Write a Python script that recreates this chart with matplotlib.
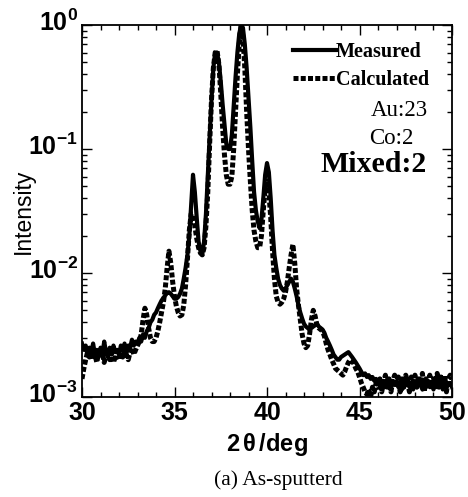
import numpy as np
import matplotlib
matplotlib.use("Agg")
import matplotlib.pyplot as plt
import matplotlib.transforms as mtransforms
from matplotlib import font_manager as fm
from matplotlib.ticker import LogLocator, MultipleLocator, NullFormatter, FixedLocator

names = sorted({f.name for f in fm.fontManager.ttflist})

# ---------------- data ----------------
two_theta = np.round(np.arange(30.0, 50.05, 0.1), 1)

measured = np.array([
    2.7, 2.4, 2.6, 2.2, 2.5, 2.3, 2.7, 2.2, 2.4, 2.1,
    2.5, 2.2, 2.8, 2.3, 2.1, 2.5, 2.2, 2.6, 2.3, 2.4,
    2.2, 2.6, 2.4, 2.7, 2.3, 2.6, 2.5, 2.9, 2.6, 2.8,
    2.7, 3.0, 2.8, 3.2, 3.0, 3.4, 3.6, 4.0, 4.2, 4.6,
    4.8, 5.2, 5.6, 6.0, 6.3, 6.6, 6.9, 7.0, 6.8, 6.5,
    6.2, 6.2, 6.4, 6.8, 7.5, 9.0, 11, 14, 20, 35,
    62, 45, 28, 18, 15, 14, 18, 30, 60, 120,
    250, 450, 600, 600, 500, 350, 230, 160, 110, 100,
    100, 130, 220, 380, 600, 850, 1000, 950, 700, 450,
    260, 150, 80, 45, 32, 26, 23, 27, 40, 62,
    77, 65, 40, 22, 14, 11, 9.0, 8.0, 7.5, 7.2,
    7.5, 8.0, 8.5, 9.0, 8.5, 7.5, 6.5, 5.5, 4.8, 4.3,
    3.9, 3.7, 3.6, 3.5, 3.6, 3.7, 3.8, 3.9, 3.7, 3.6,
    3.5, 3.3, 3.0, 2.8, 2.6, 2.4, 2.2, 2.1, 2.0, 2.0,
    2.1, 2.15, 2.2, 2.25, 2.3, 2.2, 2.1, 2.0, 1.9, 1.8,
    1.7, 1.6, 1.5, 1.55, 1.45, 1.5, 1.4, 1.45, 1.35, 1.4,
    1.3, 1.4, 1.25, 1.35, 1.2, 1.4, 1.3, 1.2, 1.35, 1.25,
    1.3, 1.2, 1.35, 1.15, 1.3, 1.25, 1.4, 1.2, 1.3, 1.15,
    1.3, 1.2, 1.35, 1.25, 1.15, 1.3, 1.2, 1.35, 1.2, 1.25,
    1.15, 1.3, 1.2, 1.25, 1.35, 1.15, 1.3, 1.2, 1.25, 1.3,
    1.2]) * 1e-3

calculated = np.array([
    1.4, 1.7, 2.0, 2.3, 2.1, 2.4, 2.0, 2.2, 1.9, 2.3,
    2.1, 2.3, 1.9, 2.2, 2.4, 2.0, 2.3, 1.9, 2.1, 2.2,
    2.0, 2.3, 2.1, 2.4, 2.2, 2.0, 2.3, 2.5, 2.2, 2.4,
    2.6, 2.8, 3.2, 4.2, 5.2, 4.6, 3.6, 3.0, 2.8, 2.8,
    3.0, 3.4, 4.0, 4.8, 5.8, 7.5, 11, 15, 12, 8.5,
    6.5, 5.4, 4.8, 4.5, 4.6, 5.5, 8.0, 13, 22, 30,
    30, 24, 19, 16, 14.5, 14, 16, 24, 45, 110,
    250, 450, 600, 620, 480, 280, 150, 90, 62, 52,
    52, 60, 100, 200, 400, 700, 1000, 800, 450, 200,
    100, 55, 32, 22, 18, 16, 16, 20, 32, 48,
    55, 45, 28, 15, 9.0, 6.5, 5.8, 5.6, 5.8, 6.2,
    7.0, 8.5, 11, 14, 17, 12, 7.5, 5.5, 4.2, 3.2,
    2.7, 2.5, 2.6, 3.2, 4.2, 5.0, 4.5, 3.8, 3.6, 3.5,
    3.4, 3.1, 2.7, 2.4, 2.2, 2.0, 1.85, 1.7, 1.65, 1.6,
    1.55, 1.5, 1.6, 1.75, 1.9, 2.0, 1.95, 1.85, 1.7, 1.6,
    1.45, 1.3, 1.2, 1.1, 1.05, 1.15, 1.0, 1.2, 1.1, 1.3,
    1.2, 1.4, 1.1, 1.3, 1.5, 1.2, 1.4, 1.1, 1.35, 1.5,
    1.3, 1.45, 1.1, 1.4, 1.2, 1.5, 1.3, 1.1, 1.45, 1.3,
    1.5, 1.2, 1.4, 1.3, 1.55, 1.1, 1.4, 1.3, 1.5, 1.2,
    1.4, 1.3, 1.55, 1.2, 1.45, 1.35, 1.5, 1.1, 1.4, 1.5,
    1.4]) * 1e-3

x_ticks = [30, 35, 40, 45, 50]
x_tick_labels = ["30", "35", "40", "45", "50"]
y_ticks = [1e-3, 1e-2, 1e-1, 1e0]
y_tick_labels = [r"$10^{-3}$", r"$10^{-2}$", r"$10^{-1}$", r"$10^{0}$"]
legend_labels = ["Measured", "Calculated"]
annotations = ["Au:23", "Co:2", "Mixed:2"]

# ---------------- fonts ----------------
tick_font = "Liberation Sans Narrow" if "Liberation Sans Narrow" in names else "Liberation Sans"
plt.rcParams["mathtext.fontset"] = "custom"
plt.rcParams["mathtext.rm"] = f"{tick_font}:bold"
plt.rcParams["mathtext.it"] = f"{tick_font}:bold"
plt.rcParams["mathtext.bf"] = f"{tick_font}:bold"
plt.rcParams["mathtext.default"] = "rm"

fig = plt.figure(figsize=(4.68, 4.97), dpi=100)
ax = fig.add_axes([82/468, 1-397/497, 370/468, 372/497])

ax.plot(two_theta, measured, color="black", lw=3.0, solid_joinstyle="round",
        label=legend_labels[0])
ax.plot(two_theta, calculated, color="black", lw=3.6, linestyle=(0, (1.0, 0.45)),
        dash_capstyle="butt", label=legend_labels[1])

ax.set_yscale("log")
ax.set_xlim(30, 50)
ax.set_ylim(1e-3, 1e0)

ax.xaxis.set_major_locator(FixedLocator(x_ticks))
ax.set_xticklabels(x_tick_labels)
ax.xaxis.set_minor_locator(MultipleLocator(1))
ax.yaxis.set_major_locator(FixedLocator(y_ticks))
ax.set_yticklabels(y_tick_labels)
ax.yaxis.set_minor_locator(LogLocator(base=10, subs=np.arange(2, 10), numticks=20))
ax.yaxis.set_minor_formatter(NullFormatter())

ax.tick_params(which="both", direction="in", top=True, right=True, width=1.0)
ax.tick_params(which="major", length=7, labelsize=18, pad=3)
ax.tick_params(which="minor", length=3.5)
for lab in ax.get_xticklabels():
    lab.set_fontfamily(tick_font)
    lab.set_fontweight("bold")
up = mtransforms.ScaledTranslation(0, 5/100, fig.dpi_scale_trans)
for lab in ax.get_yticklabels():
    lab.set_transform(lab.get_transform() + up)
for sp in ax.spines.values():
    sp.set_linewidth(1.3)

ax.set_ylabel("Intensity", fontfamily="Liberation Sans", fontsize=16.5)
ax.yaxis.set_label_coords(-0.127, 0.5)
ax.set_xlabel(r"2$\,\theta\,$/deg", fontfamily=tick_font, fontweight="bold",
              fontsize=17, labelpad=4)

leg = ax.legend(loc="upper right", bbox_to_anchor=(0.937, 0.955), frameon=False,
                handlelength=2.1, handletextpad=0.0, borderaxespad=0, borderpad=0,
                labelspacing=0.4,
                prop={"family": "Liberation Serif", "weight": "bold", "size": 14.5})

ax.text(0.935, 0.769, annotations[0], transform=ax.transAxes, ha="right", va="center",
        fontfamily="Liberation Serif", fontsize=16.5)
ax.text(0.895, 0.694, annotations[1], transform=ax.transAxes, ha="right", va="center",
        fontfamily="Liberation Serif", fontsize=16.5)
ax.text(0.932, 0.626, annotations[2], transform=ax.transAxes, ha="right", va="center",
        fontfamily="Liberation Serif", fontweight="bold", fontsize=21.5)

fig.text(278/468, 1-480/497, "(a) As-sputterd", ha="center", va="center",
         fontfamily="Liberation Serif", fontsize=15.5)

fig.savefig("out.png", dpi=100)
